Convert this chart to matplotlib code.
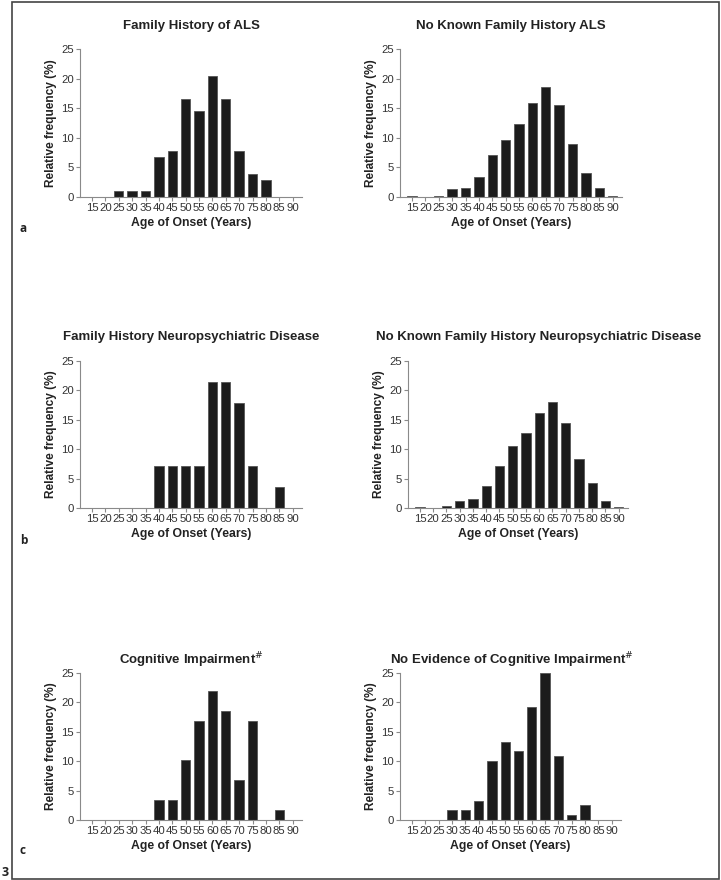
import matplotlib.pyplot as plt
from matplotlib.patches import Rectangle

plt.rcParams['font.family'] = ['Liberation Sans', 'DejaVu Sans']

# Age of onset bins
ages = [15, 20, 25, 30, 35, 40, 45, 50, 55, 60, 65, 70, 75, 80, 85, 90]

# Relative frequency (%) per panel
fam_als = [0, 0, 1.0, 1.0, 1.0, 6.8, 7.8, 16.5, 14.6, 20.4, 16.5, 7.8, 3.9, 2.9, 0, 0]
no_fam_als = [0.1, 0, 0.1, 1.3, 1.5, 3.3, 7.1, 9.6, 12.4, 15.9, 18.5, 15.6, 8.9, 4.1, 1.5, 0.1]
fam_neuro = [0, 0, 0, 0, 0, 7.1, 7.1, 7.1, 7.1, 21.4, 21.4, 17.9, 7.1, 0, 3.6, 0]
no_fam_neuro = [0.1, 0, 0.3, 1.2, 1.5, 3.7, 7.2, 10.6, 12.8, 16.2, 18.1, 14.5, 8.3, 4.2, 1.2, 0.1]
cog = [0, 0, 0, 0, 0, 3.4, 3.4, 10.2, 16.9, 22.0, 18.6, 6.8, 16.9, 0, 1.7, 0]
no_cog = [0, 0, 0, 1.7, 1.7, 3.3, 10.0, 13.3, 11.7, 19.2, 25.0, 10.8, 0.8, 2.5, 0, 0]

titles = ['Family History of ALS', 'No Known Family History ALS',
          'Family History Neuropsychiatric Disease',
          'No Known Family History Neuropsychiatric Disease',
          'Cognitive Impairment$^{\\#}$', 'No Evidence of Cognitive Impairment$^{\\#}$']
series = [fam_als, no_fam_als, fam_neuro, no_fam_neuro, cog, no_cog]

W, H = 721, 880
fig = plt.figure(figsize=(W / 100, H / 100), dpi=100)

# axes boxes in pixels: left, top, right, bottom
boxes = [(80, 49, 302, 197), (400, 49, 622, 197),
         (80, 361, 302, 508), (408, 361, 628, 508),
         (80, 673, 302, 820), (400, 673, 621, 820)]
title_x = [191, 511, 191, 539, 191, 512]
title_y = [26, 26, 337, 337, 660, 660]

gray = '#8a8a8a'
for i, (l, t, r, b) in enumerate(boxes):
    ax = fig.add_axes([l / W, 1 - b / H, (r - l) / W, (b - t) / H])
    ax.bar(ages, series[i], width=3.5, color='#1c1c1c', edgecolor='#555555', linewidth=0.6)
    ax.set_xlim(10.5, 93.5)
    ax.set_ylim(0, 25)
    ax.set_xticks(ages)
    ax.set_yticks([0, 5, 10, 15, 20, 25])
    for s in ['top', 'right']:
        ax.spines[s].set_visible(False)
    for s in ['left', 'bottom']:
        ax.spines[s].set_color(gray)
        ax.spines[s].set_linewidth(0.8)
    ax.tick_params(colors=gray, labelcolor='#333333', labelsize=8.2, length=3, width=0.8, pad=1.5)
    ax.set_xlabel('Age of Onset (Years)', fontsize=8.8, fontweight='bold', color='#222222', labelpad=3)
    ax.set_ylabel('Relative frequency (%)', fontsize=8.6, fontweight='bold', color='#222222', labelpad=3)
    fig.text(title_x[i] / W, 1 - title_y[i] / H, titles[i], ha='center', va='center',
             fontsize=9.5, fontweight='bold', color='#222222')

# panel letters
for lab, y in zip(['a', 'b', 'c'], [228, 540, 850]):
    fig.text(20 / W, 1 - y / H, lab, ha='left', va='center', fontsize=8.5,
             fontweight='bold', family=['Open Sans', 'DejaVu Sans'], color='#222222')

# frame around the figure
fig.add_artist(Rectangle((12 / W, 1.5 / H), 707 / W, 876 / H, transform=fig.transFigure,
                         fill=False, edgecolor='#444444', linewidth=1.2))
fig.text(2 / W, 1 - 872 / H, '3', ha='left', va='center', fontsize=9,
         fontweight='bold', family=['Open Sans', 'DejaVu Sans'], color='#222222')

fig.savefig('out.png', dpi=100)
